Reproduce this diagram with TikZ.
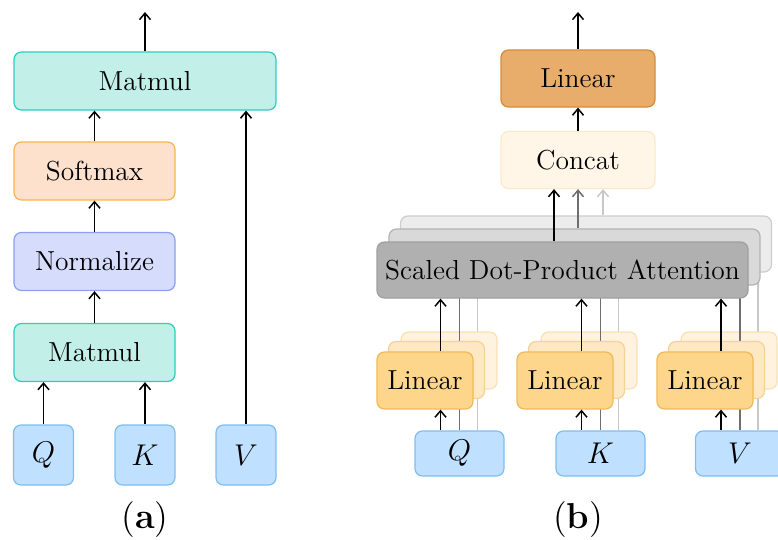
\documentclass[tikz,border=0pt]{standalone}
\usetikzlibrary{calc,arrows.meta}

\definecolor{tealf}{RGB}{194,239,232}
\definecolor{teald}{RGB}{44,205,190}
\definecolor{softf}{RGB}{253,225,205}
\definecolor{softd}{RGB}{250,180,80}
\definecolor{normf}{RGB}{214,220,252}
\definecolor{normd}{RGB}{140,160,240}
\definecolor{inpf}{RGB}{191,224,255}
\definecolor{inpd}{RGB}{128,190,240}
\definecolor{linf}{RGB}{232,173,106}
\definecolor{lind}{RGB}{216,138,58}
\definecolor{catf}{RGB}{255,246,232}
\definecolor{catd}{RGB}{253,233,200}
\definecolor{sd1f}{RGB}{176,176,176}
\definecolor{sd1d}{RGB}{160,160,160}
\definecolor{sd2f}{RGB}{217,217,217}
\definecolor{sd2d}{RGB}{180,180,180}
\definecolor{sd3f}{RGB}{236,236,236}
\definecolor{sd3d}{RGB}{205,205,205}
\definecolor{l1f}{RGB}{253,214,140}
\definecolor{l1d}{RGB}{240,185,90}
\definecolor{l2f}{RGB}{254,232,196}
\definecolor{l2d}{RGB}{245,210,150}
\definecolor{l3f}{RGB}{255,242,222}
\definecolor{l3d}{RGB}{250,225,180}
\definecolor{wire2}{RGB}{110,110,110}
\definecolor{wire3}{RGB}{200,200,200}

\begin{document}
\begin{tikzpicture}[x=0.4pt,y=-0.4pt,
    blk/.style={draw, rounded corners=3pt, line width=0.5pt, inner sep=0pt,
        font=\fontsize{11}{13}\selectfont},
    opwide/.style={minimum width=104.8pt, minimum height=23.2pt},
    opbox/.style={minimum width=64.4pt, minimum height=23.2pt},
    inbox/.style={fill=inpf, draw=inpd, minimum width=24pt, minimum height=24pt,
        font=\fontsize{13}{15}\selectfont},
    headbox/.style={minimum width=61.6pt, minimum height=22.8pt},
    attbox/.style={minimum width=148.4pt, minimum height=22.4pt},
    linbox/.style={minimum width=38.4pt, minimum height=22.8pt},
    inboxb/.style={fill=inpf, draw=inpd, minimum width=35.6pt, minimum height=18pt,
        font=\fontsize{13}{15}\selectfont},
    arr/.style={-{Straight Barb[length=2.6pt,width=4.4pt]}, line width=0.6pt},
    wirebk/.style={line width=0.6pt, wire2},
    wirelt/.style={line width=0.6pt, wire3}]

    \useasboundingbox (0,0) rectangle (778,539);
    \clip (0,0) rectangle (778,539);

    % (a) scaled dot-product attention
    \node[blk, opwide, fill=tealf, draw=teald] (mm2) at (145,81) {Matmul};
    \node[blk, opbox, fill=softf, draw=softd] (soft) at (94.5,171) {Softmax};
    \node[blk, opbox, fill=normf, draw=normd] (norm) at (94.5,261.5) {Normalize};
    \node[blk, opbox, fill=tealf, draw=teald] (mm1) at (94.5,352.5) {Matmul};
    \node[blk, inbox] (qa) at (43.5,455) {$Q$};
    \node[blk, inbox] (ka) at (145,455) {$K$};
    \node[blk, inbox] (va) at (246,455) {$V$};
    \coordinate (outa) at (145,12);

    \draw[arr] (qa.north) -- (qa.north |- mm1.south);
    \draw[arr] (ka.north) -- (ka.north |- mm1.south);
    \draw[arr] (va.north) -- (va.north |- mm2.south);
    \draw[arr] (mm1) -- (norm);
    \draw[arr] (norm) -- (soft);
    \draw[arr] (soft.north) -- (soft.north |- mm2.south);
    \draw[arr] (mm2) -- (outa);

    \node[font=\Large] (capa) at (145,520) {(\textbf{a})};

    % (b) multi-head attention
    \node[blk, headbox, fill=linf, draw=lind] (lin) at (578,78.5) {Linear};
    \node[blk, headbox, fill=catf, draw=catd] (cat) at (578,160) {Concat};
    \coordinate (outb) at (578,12);
    \node[blk, inboxb] (inq) at (459.5,453.5) {$Q$};
    \node[blk, inboxb] (ink) at (600.5,453.5) {$K$};
    \node[blk, inboxb] (inv) at (740,453.5) {$V$};

    % third head (back)
    \node[blk, attbox, fill=sd3f, draw=sd3d] (sd3) at (586,244) {};
    \foreach \n in {q,k,v} {
        \coordinate (\n3) at ($(in\n.north)+(18,0)$);
        \draw[wirelt] (\n3) -- (\n3 |- sd3.south);
    }
    \coordinate (c3) at ($(cat.south)+(25,0)$);
    \draw[arr, wire3] (c3 |- sd3.north) -- (c3);
    \foreach \n/\x in {q/425,k/565,v/705}
        \node[blk, linbox, fill=l3f, draw=l3d] (l\n3) at (\x+24,360.5) {};

    % second head
    \node[blk, attbox, fill=sd2f, draw=sd2d] (sd2) at (574.5,257) {};
    \foreach \n in {q,k,v} {
        \coordinate (\n2) at (in\n.north);
        \draw[wirebk] (\n2) -- (\n2 |- sd2.south);
    }
    \draw[arr, wire2] (cat.south |- sd2.north) -- (cat.south);
    \foreach \n/\x in {q/425,k/565,v/705}
        \node[blk, linbox, fill=l2f, draw=l2d] (l\n2) at (\x+11.5,370) {};

    % first head (front)
    \node[blk, attbox, fill=sd1f, draw=sd1d] (sd1) at (562.5,270) {Scaled Dot-Product Attention};
    \foreach \n/\x in {q/425,k/565,v/705} {
        \node[blk, linbox, fill=l1f, draw=l1d] (l\n1) at (\x,380.5) {Linear};
        \coordinate (\n1) at ($(in\n.north)+(-19,0)$);
        \draw[arr] (\n1) -- (\n1 |- l\n1.south);
        \draw[arr] (\n1 |- l\n1.north) -- (\n1 |- sd1.south);
    }
    \coordinate (c1) at ($(cat.south)+(-24,0)$);
    \draw[arr] (c1 |- sd1.north) -- (c1);
    \draw[arr] (cat) -- (lin);
    \draw[arr] (lin) -- (outb);

    \node[font=\Large] (capb) at (578,520) {(\textbf{b})};
\end{tikzpicture}
\end{document}
